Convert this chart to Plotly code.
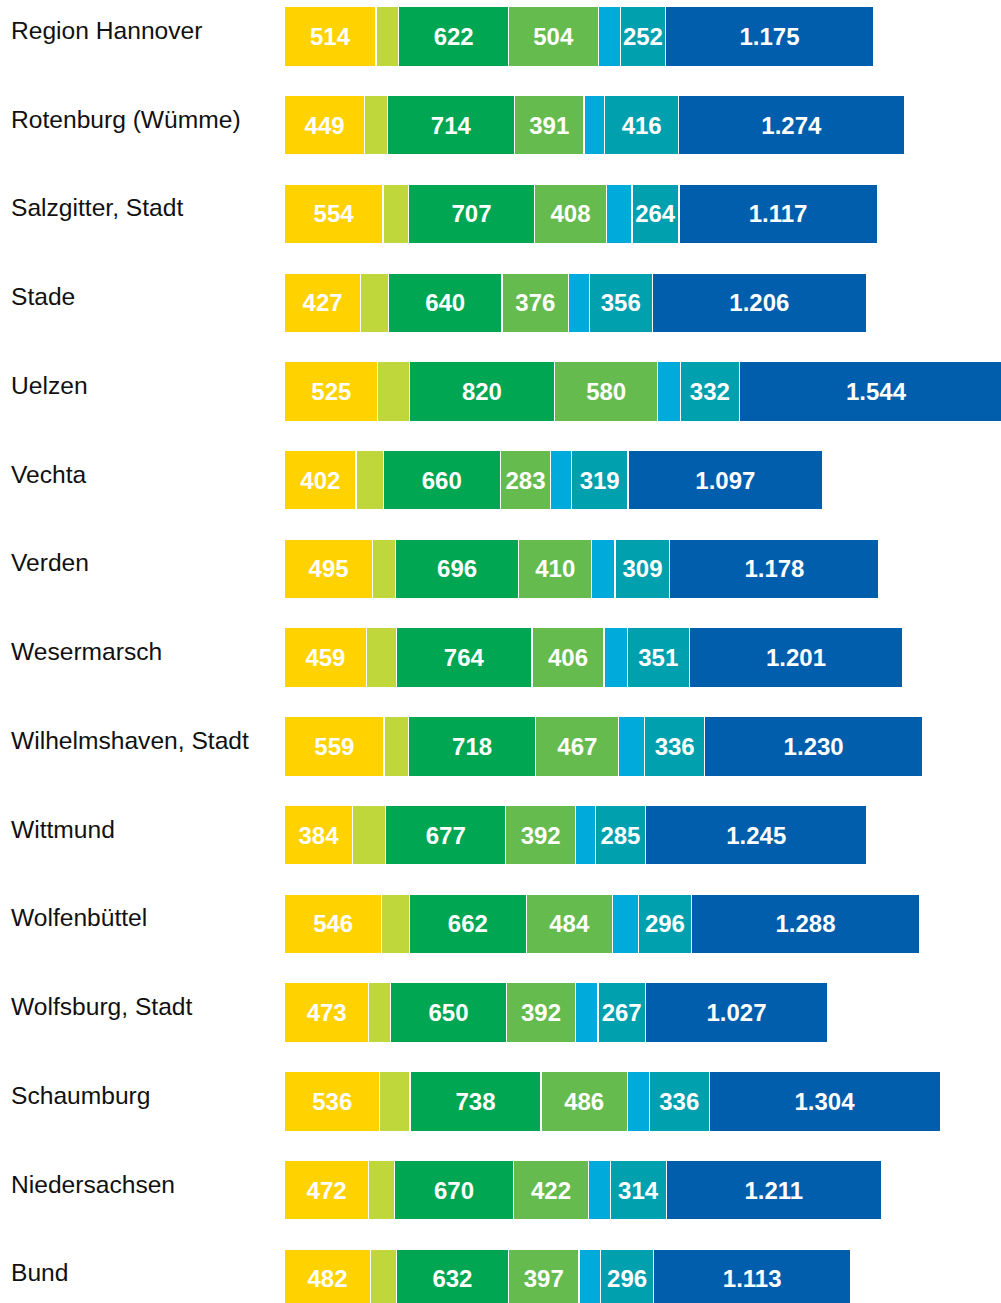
import plotly.graph_objects as go

categories = ["Region Hannover", "Rotenburg (Wümme)", "Salzgitter, Stadt", "Stade", "Uelzen",
              "Vechta", "Verden", "Wesermarsch", "Wilhelmshaven, Stadt", "Wittmund",
              "Wolfenbüttel", "Wolfsburg, Stadt", "Schaumburg", "Niedersachsen", "Bund"]

seg1 = [514, 449, 554, 427, 525, 402, 495, 459, 559, 384, 546, 473, 536, 472, 482]
seg2 = [127, 132, 145, 157, 176, 153, 128, 170, 138, 185, 155, 125, 170, 147, 147]
seg3 = [622, 714, 707, 640, 820, 660, 696, 764, 718, 677, 662, 650, 738, 670, 632]
seg4 = [504, 391, 408, 376, 580, 283, 410, 406, 467, 392, 484, 392, 486, 422, 397]
seg5 = [125, 117, 143, 115, 128, 117, 132, 130, 147, 111, 147, 125, 125, 125, 123]
seg6 = [252, 416, 264, 356, 332, 319, 309, 351, 336, 285, 296, 267, 336, 314, 296]
seg7 = [1175, 1274, 1117, 1206, 1544, 1097, 1178, 1201, 1230, 1245, 1288, 1027, 1304, 1211, 1113]

series = [seg1, seg2, seg3, seg4, seg5, seg6, seg7]
colors = ["#FFD200", "#BFD73B", "#00A651", "#66BB4E", "#00AADB", "#00A0AF", "#005EAC"]
labelled = [True, False, True, True, False, True, True]


def de_fmt(v):
    return f"{v:,}".replace(",", ".")


ypos = list(range(len(categories)))
FONT = "Liberation Sans, Arial, sans-serif"

fig = go.Figure()
for vals, col, lab in zip(series, colors, labelled):
    fig.add_trace(go.Bar(
        y=ypos, x=vals, orientation="h",
        marker=dict(color=col, line=dict(color="white", width=1.2)),
        width=0.672,
        text=[de_fmt(v) for v in vals] if lab else None,
        textposition="inside" if lab else "none",
        insidetextanchor="middle",
        constraintext="none",
        textangle=0,
        textfont=dict(family=FONT, size=24, color="white", weight="bold"),
        hoverinfo="skip",
        showlegend=False,
    ))

s = 0.1775
x0px = 284.7
W, H = 1001, 1303

for i, c in enumerate(categories):
    fig.add_annotation(
        x=9 / W, xref="paper", xanchor="left",
        y=i, yref="y", yanchor="middle", yshift=6,
        text=c, showarrow=False,
        font=dict(family=FONT, size=24.6, color="#111111"),
    )

fig.update_layout(
    barmode="stack",
    width=W, height=H,
    margin=dict(l=0, r=0, t=0, b=0),
    plot_bgcolor="white", paper_bgcolor="white",
    xaxis=dict(range=[-x0px / s, (W - x0px) / s], visible=False, fixedrange=True),
    yaxis=dict(range=[(H - 36.5) / 88.74, -36.5 / 88.74], visible=False, fixedrange=True),
    bargap=0.3,
)

fig.write_html("out.html", config={"displayModeBar": False})

with open("out.html", "r", encoding="utf-8") as f:
    html = f.read()
html = html.replace("<head>", "<head><style>html,body{margin:0;padding:0;overflow:hidden;}</style>", 1)
with open("out.html", "w", encoding="utf-8") as f:
    f.write(html)
